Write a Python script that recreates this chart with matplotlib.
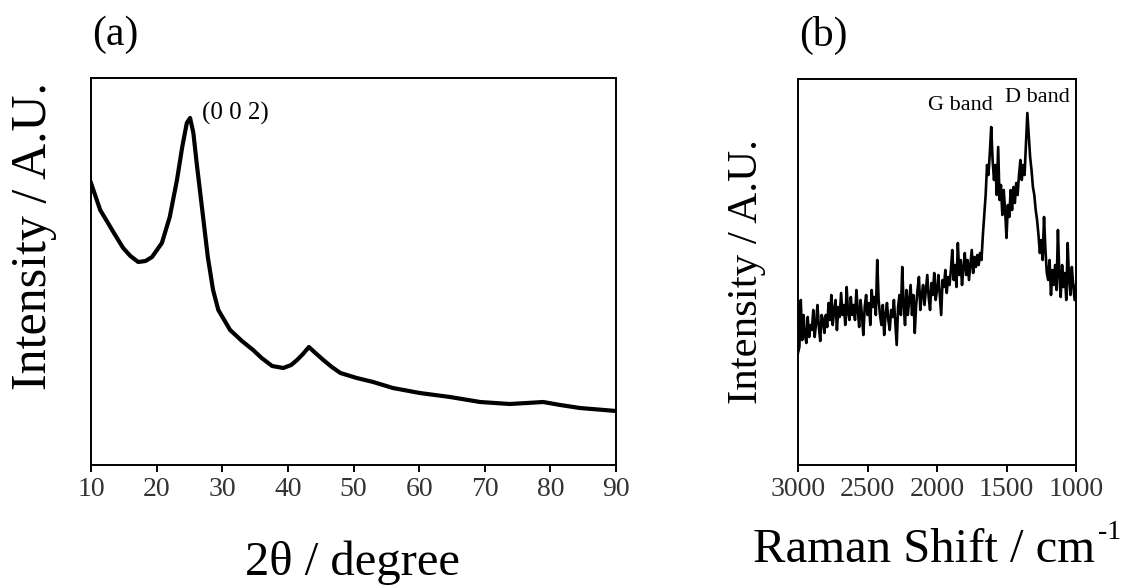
import numpy as np
import matplotlib
matplotlib.use("Agg")
import matplotlib.pyplot as plt

plt.rcParams['font.family'] = ['Liberation Serif', 'DejaVu Serif']

# ---- (a) XRD data ----
xrd_2theta = [10.0, 11.4, 12.5, 13.4, 14.9, 16.0, 17.2, 18.3, 19.3, 20.8, 22.0,
              23.1, 23.9, 24.6, 25.1, 25.6, 26.1, 26.9, 27.8, 28.6, 29.4, 31.2,
              33.0, 34.7, 36.0, 37.6, 39.3, 40.5, 41.4, 42.3, 43.2, 44.2, 45.4,
              46.7, 48.0, 50.5, 53.0, 56.0, 60.1, 64.7, 69.3, 73.8, 76.4, 78.9,
              81.5, 84.5, 90.0]
xrd_int = [282, 255, 243, 233, 217, 209, 203, 204, 208, 222, 248,
           285, 318, 342, 347, 332, 302, 258, 208, 175, 155, 135,
           124, 115, 107, 99, 97, 100, 105, 111, 118, 112, 105,
           98, 92, 87, 83, 77, 72, 68, 63, 61, 62, 63,
           60, 57, 54]
xrd_ticks = [10, 20, 30, 40, 50, 60, 70, 80, 90]

# ---- (b) Raman data, 3000 -> 1000 cm-1 every 10 ----
raman_shift = np.arange(3000, 999, -10)
raman_int = [
    112, 118, 165, 125, 150, 130, 122, 148, 128, 140,
    135, 155, 128, 142, 160, 138, 124, 150, 145, 132,
    150, 138, 162, 145, 170, 140, 155, 165, 135, 158,
    148, 172, 150, 160, 140, 178, 152, 145, 168, 150,
    160, 145, 175, 155, 138, 165, 150, 130, 158, 170,
    150, 162, 140, 175, 158, 168, 150, 205, 165, 150,
    140, 160, 130, 150, 162, 145, 135, 155, 148, 165,
    142, 120, 158, 170, 150, 198, 160, 140, 175, 150,
    165, 180, 150, 170, 132, 160, 175, 188, 155, 170,
    180, 160, 175, 190, 168, 155, 182, 170, 192, 165,
    175, 190, 170, 150, 185, 178, 195, 172, 188, 180,
    195, 215, 185, 200, 178, 222, 190, 205, 180, 198,
    212, 190, 205, 185, 200, 215, 192, 208, 198, 210,
    200, 212, 205, 230, 250, 270, 300, 290, 312, 338,
    305, 285, 300, 270, 318, 265, 280, 250, 275, 255,
    227, 260, 248, 275, 255, 278, 262, 282, 270, 290,
    305, 285, 300, 290, 320, 352, 330, 308, 295, 278,
    270, 255, 245, 230, 212, 225, 205, 248, 215, 192,
    185, 205, 170, 195, 180, 200, 175, 235, 190, 168,
    200, 178, 192, 165, 222, 185, 170, 198, 180, 165,
    180]
raman_ticks = [3000, 2500, 2000, 1500, 1000]

fig = plt.figure(figsize=(11.24, 5.88), dpi=100)
ax1 = fig.add_axes([91/1124, 1 - 465/588, 525/1124, 387/588])
ax2 = fig.add_axes([798/1124, 1 - 465/588, 278/1124, 386/588])

ax1.plot(xrd_2theta, xrd_int, color='black', lw=3.0, solid_joinstyle='round')
ax1.set_xlim(10, 90)
ax1.set_ylim(0, 387)
ax1.set_xticks(xrd_ticks)
ax1.text(26.9, 352, "(0 0 2)", fontsize=18, ha='left', va='center')

ax2.plot(raman_shift, raman_int, color='black', lw=1.9)
ax2.set_xlim(3000, 1000)
ax2.set_ylim(0, 386)
ax2.set_xticks(raman_ticks)
ax2.text(2065, 359, "G band", fontsize=16, ha='left', va='center')
ax2.text(1511, 367, "D band", fontsize=16, ha='left', va='center')

for ax in (ax1, ax2):
    ax.set_yticks([])
    for s in ax.spines.values():
        s.set_linewidth(1.4)
    ax.tick_params(axis='x', direction='out', length=5, width=1.4,
                   labelsize=20, pad=4, colors='black')
    for lab in ax.get_xticklabels():
        lab.set_color('#333333')

fig.text(34/1124, 1 - 236/588, "Intensity / A.U.", rotation=90,
         fontsize=36, ha='center', va='center')
fig.text(747/1124, 1 - 271/588, "Intensity / A.U.", rotation=90,
         fontsize=31, ha='center', va='center')
fig.text(352/1124, 1 - 575/588, "2\u03b8 / degree", fontsize=35,
         ha='center', va='baseline')
fig.text(753/1124, 1 - 562/588, "Raman Shift / cm", fontsize=35,
         ha='left', va='baseline')
fig.text(1098/1124, 1 - 539/588, "-1", fontsize=20,
         ha='left', va='baseline')
fig.text(115/1124, 1 - 35/588, "(a)", fontsize=30, ha='center', va='center')
fig.text(823/1124, 1 - 35/588, "(b)", fontsize=30, ha='center', va='center')

fig.savefig("out.png", dpi=100)
